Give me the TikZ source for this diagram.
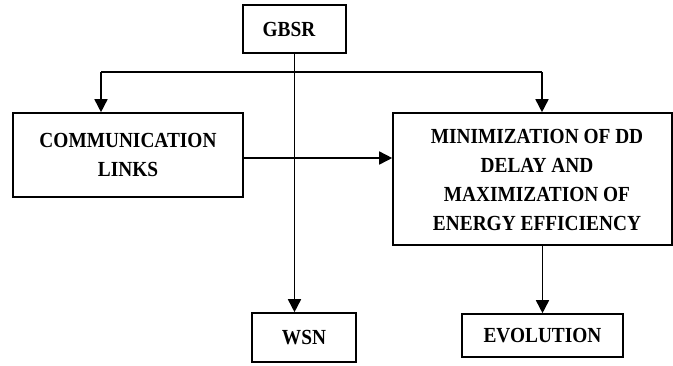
\documentclass[tikz,border=0pt]{standalone}
\usepackage{fontspec}
\setmainfont{Liberation Serif}[FakeStretch=0.9]
\usetikzlibrary{arrows.meta}
\begin{document}
\begin{tikzpicture}[x=1pt,y=-1pt,
  lbl/.style={inner sep=0pt, align=center,
    font=\fontsize{21.5}{29}\selectfont\bfseries},
  box/.style={lbl, draw, line width=1.6pt},
  conn/.style={line width=1.6pt},
  arr/.style={conn, -{Triangle[length=13pt,width=13pt]}}]
\useasboundingbox (0,0) rectangle (673,365);
\node[box, minimum width=103pt, minimum height=48pt] (gbsr) at (294.5,29) {};
\node[lbl] (gbsrtext) at (289,29) {GBSR};
\node[box, minimum width=230pt, minimum height=84pt] (comm) at (128,155) {COMMUNICATION\\LINKS};
\node[box, minimum width=279pt, minimum height=132pt] (mn) at (532.5,179) {};
\node[lbl] (mntext) at (537,180) {MINIMIZATION OF DD\\DELAY AND\\MAXIMIZATION OF\\ENERGY EFFICIENCY};
\node[box, minimum width=104pt, minimum height=49pt] (wsn) at (304,337.5) {WSN};
\node[box, minimum width=161pt, minimum height=43pt] (evo) at (542.5,335.5) {EVOLUTION};
\coordinate (jl) at (101,72);
\coordinate (jr) at (542,72);
\draw[conn] (jl) -- (jr);
\draw[arr] (gbsr.south) -- (gbsr.south |- wsn.north);
\draw[arr] (jl) -- (jl |- comm.north);
\draw[arr] (jr) -- (jr |- mn.north);
\draw[arr] ([yshift=-3pt]comm.east) -- ([yshift=-3pt]comm.east -| mn.west);
\draw[arr] (evo.north |- mn.south) -- (evo.north);
\end{tikzpicture}
\end{document}
